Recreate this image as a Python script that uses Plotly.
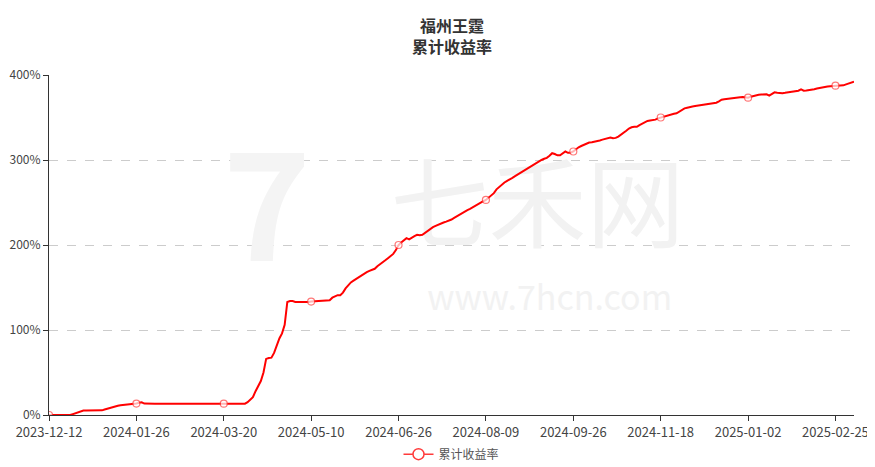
import plotly.graph_objects as go

title_lines = ["福州王霆", "累计收益率"]
series_name = "累计收益率"
tick_labels = ["2023-12-12", "2024-01-26", "2024-03-20", "2024-05-10", "2024-06-26",
               "2024-08-09", "2024-09-26", "2024-11-18", "2025-01-02", "2025-02-25"]
label_step = 33  # one date label (and one symbol) every 33 observations
y_ticks = [0, 100, 200, 300, 400]

returns_pct = [
    0, 0, 0, 0, 0, 0, 0, 0, 0, 1.0, 2.0,
    3.5, 4.5, 5.3, 5.4, 5.3, 5.4, 5.3, 5.5, 5.4, 5.5, 6.5,
    7.5, 8.3, 8.8, 9.8, 10.8, 11.5, 11.8, 12.0, 12.5, 12.8, 13.0,
    13.5, 14.5, 15.0, 13.5, 13.2, 13.2, 13.1, 13.2, 13.2, 13.3, 13.2,
    13.2, 13.1, 13.2, 13.2, 13.2, 13.3, 13.2, 13.2, 13.1, 13.2, 13.2,
    13.2, 13.3, 13.2, 13.2, 13.2, 13.1, 13.2, 13.2, 13.2, 13.3, 13.2,
    13.3, 13.2, 13.2, 13.2, 13.3, 13.2, 13.2, 13.3, 13.3, 15.0, 18.0,
    21.0, 28.0, 35.0, 40.0, 50.0, 66.0, 67.0, 67.5, 73.0, 82.0, 90.0,
    96.0, 106.0, 133.0, 134.0, 134.0, 133.0, 133.0, 132.8, 132.8, 133.0, 133.0,
    133.5, 133.6, 133.8, 134.0, 134.0, 134.2, 134.5, 135.0, 138.0, 140.0, 141.0,
    141.0, 144.0, 149.0, 153.0, 156.0, 158.0, 160.0, 162.0, 165.0, 166.5, 168.0,
    169.5, 170.5, 172.0, 175.0, 177.0, 180.0, 182.0, 184.5, 187.0, 189.5, 194.0,
    200.0, 203.0, 206.0, 208.0, 206.7, 209.0, 210.5, 212.0, 211.5, 212.0, 214.5,
    217.0, 219.0, 221.0, 222.5, 224.0, 225.5, 226.5, 227.5, 228.5, 230.0, 232.0,
    234.0, 235.5, 237.5, 239.5, 241.0, 242.5, 244.5, 246.5, 248.5, 250.0, 251.5,
    253.0, 256.0, 259.0, 261.0, 265.5, 268.5, 271.0, 273.5, 275.5, 277.0, 279.0,
    281.0, 283.0, 285.0, 287.0, 289.0, 291.0, 293.0, 295.0, 296.0, 298.0, 300.0,
    301.5, 302.5, 305.0, 308.0, 307.0, 305.5, 305.5, 307.5, 310.0, 308.5, 308.6,
    310.0, 313.0, 315.0, 316.5, 318.0, 319.6, 320.5, 321.0, 321.5, 322.0, 323.0,
    324.0, 325.0, 325.5, 326.5, 325.5, 326.0, 327.5, 329.5, 332.0, 334.5, 337.0,
    338.5, 339.0, 339.0, 341.0, 343.0, 345.0, 346.0, 346.5, 347.0, 347.5, 349.0,
    350.0, 351.0, 352.0, 353.0, 353.5, 354.5, 355.0, 356.8, 359.0, 360.8, 361.5,
    362.5, 363.0, 363.5, 364.0, 364.5, 365.0, 366.0, 366.5, 367.0, 367.2, 367.4,
    369.0, 371.0, 371.5, 372.0, 372.2, 372.5, 373.0, 373.4, 373.7, 374.0, 373.5,
    373.3, 374.5, 375.5, 376.5, 376.8, 377.0, 377.2, 377.3, 375.7, 377.5, 379.6,
    379.0, 378.4, 378.6, 379.0, 379.4, 379.8, 380.1, 380.4, 381.5, 383.0, 381.5,
    381.8, 382.1, 382.4, 383.2, 384.0, 384.8, 385.5, 386.0, 386.5, 386.9, 387.2,
    387.4, 387.5, 387.6, 387.8, 389.0, 390.2, 391.3, 392.0,
]

n = len(returns_pct)
x_idx = list(range(n))
tick_pos = list(range(0, n, label_step))[:len(tick_labels)]
marker_sizes = [7 if i % label_step == 0 else 0 for i in x_idx]

font_family = "Microsoft YaHei, Noto Sans CJK SC, sans-serif"
wm_color = "#f2f2f2"

fig = go.Figure()

# background watermark (drawn beneath the data line)
fig.add_trace(go.Scatter(
    x=[n * 0.605, n * 0.62], y=[235, 133], mode="text",
    text=["七禾网", "www.7hcn.com"],
    textfont=dict(size=[98, 34], color=wm_color, family=font_family),
    showlegend=False, hoverinfo="skip",
))
fig.add_trace(go.Scatter(
    x=[n * 0.27], y=[225], mode="text", text=["<b>7</b>"],
    textfont=dict(size=150, color="#f4f4f4", family=font_family),
    showlegend=False, hoverinfo="skip",
))

fig.add_trace(go.Scatter(
    x=x_idx, y=returns_pct, name=series_name,
    mode="lines+markers",
    line=dict(color="#ff0000", width=2),
    marker=dict(size=marker_sizes, color="#ffffff", symbol="circle",
                line=dict(color="#ff4040", width=1.2)),
    showlegend=False,
    hovertemplate="%{y:.2f}%<extra></extra>",
))
# legend entry
fig.add_trace(go.Scatter(
    x=[None], y=[None], name=series_name, mode="lines+markers",
    line=dict(color="#ff3b3b", width=1.5),
    marker=dict(size=11, color="#ffffff", symbol="circle",
                line=dict(color="#ff3b3b", width=1.5)),
))

for txt, ypos in zip(title_lines, [17, 38]):
    fig.add_annotation(text="<b>" + txt + "</b>", xref="paper", yref="paper",
                       x=0.5, y=1 + (67 - ypos) / 340.0, xanchor="center", yanchor="middle",
                       showarrow=False,
                       font=dict(size=16, color="#333333", family=font_family))

fig.update_layout(
    width=867, height=459,
    margin=dict(l=41, r=21, t=67, b=52, autoexpand=False),
    paper_bgcolor="#ffffff", plot_bgcolor="#ffffff",
    font=dict(family=font_family, color="#555555", size=12),
    showlegend=True,
    legend=dict(orientation="h", x=0.5, xanchor="center", yref="container",
                y=0.028, yanchor="middle",
                font=dict(size=12, color="#555555")),
    hovermode="x",
)
fig.update_xaxes(
    range=[0, n - 1], tickmode="array", tickvals=tick_pos, ticktext=tick_labels,
    showgrid=False, zeroline=False, showline=True, linecolor="#333333", linewidth=1,
    ticks="outside", ticklen=5, tickcolor="#333333", automargin=False,
    tickfont=dict(size=13, color="#444444"),
)
fig.update_yaxes(
    range=[0, 400], tickmode="array", tickvals=y_ticks,
    ticktext=[f"{v}%" for v in y_ticks],
    showgrid=True, gridcolor="#cccccc", griddash="dash", gridwidth=1,
    zeroline=False, showline=True, linecolor="#333333", linewidth=1,
    ticks="outside", ticklen=5, tickcolor="#333333", automargin=False,
    tickfont=dict(size=12, color="#444444"),
)

fig.write_html("out.html")
